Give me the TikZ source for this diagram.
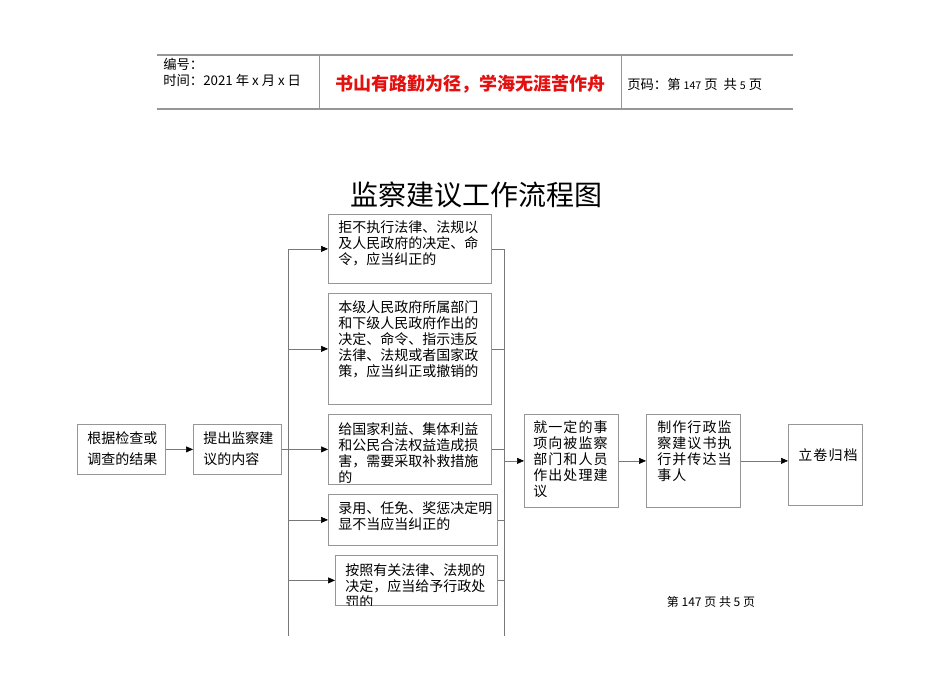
\documentclass[tikz,border=0pt]{standalone}
\usepackage{fontspec}
\newfontfamily\cjk{Noto Sans CJK SC}
\newfontfamily\cjkwide[LetterSpace=8]{Noto Sans CJK SC}
\usetikzlibrary{positioning,arrows.meta}
\definecolor{linegray}{RGB}{120,120,120}
\definecolor{boxgray}{RGB}{150,150,150}
\definecolor{mottored}{RGB}{228,16,16}

\begin{document}
\begin{tikzpicture}[x=0.75pt,y=-0.75pt,
                    box/.style={draw=boxgray,line width=0.6pt,anchor=north west,inner sep=0pt},
                    txt/.style={anchor=north west,inner sep=0pt,align=left,font=\cjk\fontsize{10.5}{12}\selectfont},
                    wtxt/.style={txt,font=\cjkwide\fontsize{10.5}{12}\selectfont},
                    hdr/.style={font=\cjk\fontsize{10}{12}\selectfont,inner sep=0pt},
                    ln/.style={draw=linegray,line width=0.5pt},
                    arr/.style={ln,-{Triangle[length=5.25pt,width=4.5pt,color=black]}}]
  \useasboundingbox[fill=white] (0,0) rectangle (950,673);
  % header table
  \draw[boxgray,line width=0.8pt] (157,55) -- (793,55) (157,109) -- (793,109);
  \draw[boxgray,line width=0.6pt] (319,55) -- (319,109) (621,55) -- (621,109);
  \node[hdr,anchor=west] (num) at (163,64) {编号：};
  \node[hdr,anchor=west] (date) at (163,80) {时间：2021 年 x 月 x 日};
  \node[font=\cjk\bfseries\fontsize{13.5}{16}\selectfont,text=mottored] (motto) at (470,84) {书山有路勤为径，学海无涯苦作舟};
  \node[hdr,anchor=west] (page) at (627,84) {页码：第 {\fontsize{8}{10}\selectfont 147} 页\ \ 共 {\fontsize{8}{10}\selectfont 5} 页};
  \node[font=\cjk\fontsize{21}{25}\selectfont] (title) at (476,195) {监察建议工作流程图};
  % boxes
  \node[box,minimum width=66pt,minimum height=37.5pt] (res) at (77,424) {};
  \node[txt,font=\cjk\fontsize{10.5}{15.75}\selectfont] (res-t) at ([shift={(10,7)}]res.north west) {根据检查或\\调查的结果};
  \node[box,minimum width=66pt,minimum height=37.5pt] (adv) at (193,424) {};
  \node[txt,font=\cjk\fontsize{10.5}{15.75}\selectfont] (adv-t) at ([shift={(10,7)}]adv.north west) {提出监察建\\议的内容};
  \node[box,minimum width=122.25pt,minimum height=51.75pt] (b1) at (328,214) {};
  \node[txt] (b1-t) at ([shift={(10,6)}]b1.north west) {拒不执行法律、法规以\\及人民政府的决定、命\\令，应当纠正的};
  \node[box,minimum width=122.25pt,minimum height=83.25pt] (b2) at (328,293) {};
  \node[txt] (b2-t) at ([shift={(10,7)}]b2.north west) {本级人民政府所属部门\\和下级人民政府作出的\\决定、命令、指示违反\\法律、法规或者国家政\\策，应当纠正或撤销的};
  \node[box,minimum width=122.25pt,minimum height=52.5pt] (b3) at (328,414) {};
  \node[txt] (b3-t) at ([shift={(10,8)}]b3.north west) {给国家利益、集体利益\\和公民合法权益造成损\\害，需要采取补救措施\\的};
  \node[box,minimum width=126.75pt,minimum height=38.25pt] (b4) at (328,494) {};
  \node[txt] (b4-t) at ([shift={(10,7)}]b4.north west) {录用、任免、奖惩决定明\\显不当应当纠正的};
  \node[box,minimum width=121.5pt,minimum height=37.5pt] (b5) at (335,555) {};
  \begin{scope}
    \clip (b5.north west) rectangle (b5.south east);
    \node[txt] (b5-t) at ([shift={(10,8)}]b5.north west) {按照有关法律、法规的\\决定，应当给予行政处\\罚的};
  \end{scope}
  \node[box,minimum width=70.5pt,minimum height=69.75pt] (sug) at (524,414) {};
  \node[wtxt] (sug-t) at ([shift={(9,6)}]sug.north west) {就一定的事\\项向被监察\\部门和人员\\作出处理建\\议};
  \node[box,minimum width=70.5pt,minimum height=69.75pt] (doc) at (646,414) {};
  \node[wtxt] (doc-t) at ([shift={(11,6)}]doc.north west) {制作行政监\\察建议书执\\行并传达当\\事人};
  \node[box,minimum width=55.5pt,minimum height=60.75pt] (file) at (788,424) {};
  \node[wtxt] (file-t) at ([shift={(10,24)}]file.north west) {立卷归档};
  \node[font=\cjk\fontsize{9}{11}\selectfont] (foot) at (711,602) {第 147 页 共 5 页};
  % connectors
  \coordinate (lx) at (288,636);
  \coordinate (rx) at (504,636);
  \draw[arr] (res) -- (adv);
  \draw[ln] (adv.east) -- (lx |- adv.east);
  \draw[ln] (lx) -- (lx |- b1.west);
  \draw[ln] (rx) -- (rx |- b1.east);
  \foreach \b in {b1,b2,b3,b4,b5} {
    \draw[arr] (lx |- \b.west) -- (\b.west);
    \draw[ln] (\b.east) -- (rx |- \b.east);
  }
  \draw[arr] (rx |- sug.west) -- (sug.west);
  \draw[arr] (sug) -- (doc);
  \draw[arr] (doc.east) -- (doc.east -| file.west);
\end{tikzpicture}
\end{document}
